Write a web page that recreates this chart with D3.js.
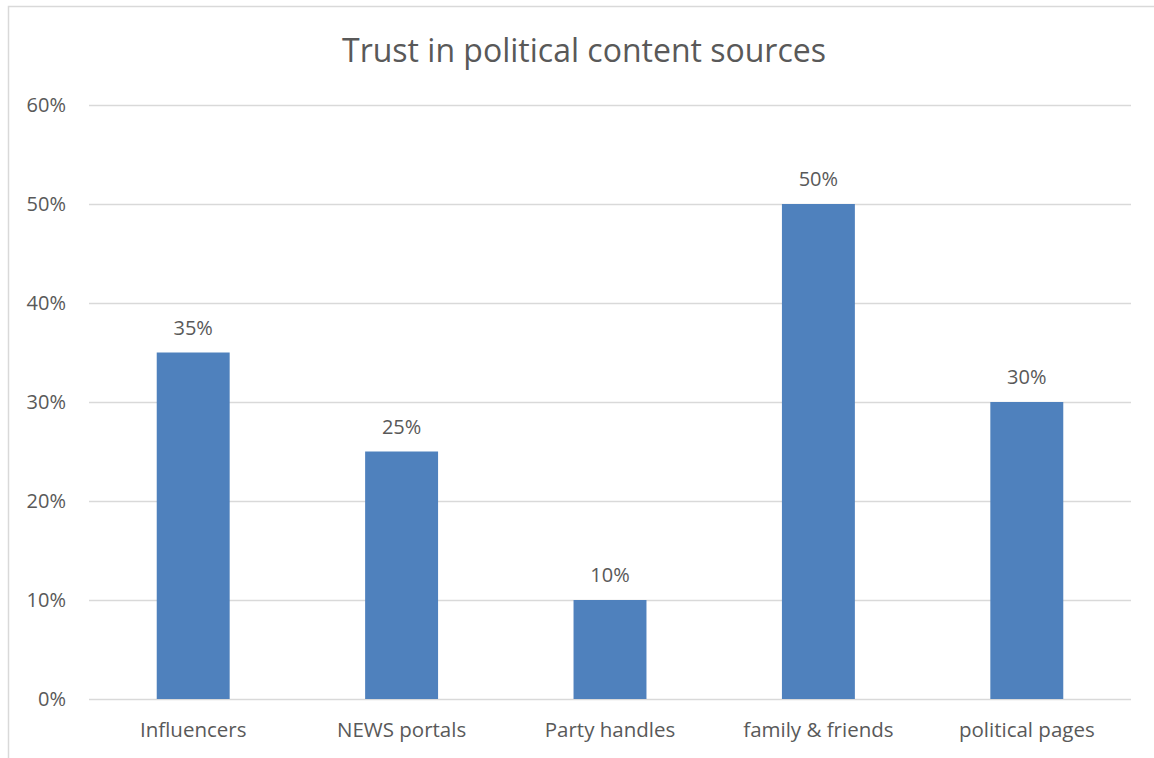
<!DOCTYPE html>
<html>
<head>
<meta charset="utf-8">
<script src="https://cdn.jsdelivr.net/npm/d3@7"></script>
<style>
  html, body { margin: 0; padding: 0; background: #fff; }
  svg { display: block; }
  text { font-family: "Open Sans", "Noto Sans", sans-serif; fill: #595959; }
</style>
</head>
<body>
<svg id="chart" width="1154" height="758"></svg>
<script>
// Share of respondents trusting each source of political content
const categories = ["Influencers", "NEWS portals", "Party handles", "family & friends", "political pages"];
const values = [0.35, 0.25, 0.10, 0.50, 0.30];
const tickValues = [0, 0.1, 0.2, 0.3, 0.4, 0.5, 0.6];
const title = "Trust in political content sources";

const svg = d3.select("#chart");
const W = 1154, H = 758;
const margin = { left: 89, right: 23, top: 105, bottom: 59 };
const fontStack = '"Open Sans", "Noto Sans", sans-serif';

// chart frame (extends past the visible canvas on the right and bottom)
svg.append("rect")
  .attr("x", 8.5).attr("y", 6.5)
  .attr("width", 1200).attr("height", 800)
  .attr("fill", "#fff")
  .attr("stroke", "#d9d9d9").attr("stroke-width", 1.5);

const x = d3.scaleBand()
  .domain(categories)
  .range([margin.left, W - margin.right])
  .paddingInner(0.65)
  .paddingOuter(0.325);

const y = d3.scaleLinear()
  .domain([0, 0.6])
  .range([H - margin.bottom, margin.top]);

// horizontal gridlines
svg.append("g")
  .selectAll("line")
  .data(tickValues)
  .join("line")
  .attr("x1", margin.left).attr("x2", W - margin.right)
  .attr("y1", d => Math.round(y(d)) + 0.5).attr("y2", d => Math.round(y(d)) + 0.5)
  .attr("stroke", "#d9d9d9").attr("stroke-width", 1.3);

// y axis labels
const yAxis = d3.axisLeft(y).tickValues(tickValues).tickFormat(d3.format(".0%")).tickSize(0).tickPadding(23);
svg.append("g")
  .attr("transform", `translate(${margin.left},0)`)
  .call(yAxis)
  .call(g => g.select(".domain").remove())
  .call(g => g.selectAll("text").attr("font-size", 20).attr("fill", "#595959")
    .style("font-family", fontStack));

// bars
svg.append("g")
  .selectAll("rect")
  .data(values)
  .join("rect")
  .attr("x", (d, i) => x(categories[i]))
  .attr("width", x.bandwidth())
  .attr("y", d => y(d))
  .attr("height", d => y(0) - y(d))
  .attr("fill", "#4f81bd");

// value labels
svg.append("g")
  .selectAll("text")
  .data(values)
  .join("text")
  .attr("x", (d, i) => x(categories[i]) + x.bandwidth() / 2)
  .attr("y", d => y(d) - 18)
  .attr("text-anchor", "middle")
  .attr("font-size", 20)
  .attr("fill", "#404040")
  .text(d => d3.format(".0%")(d));

// category axis
const xAxis = d3.axisBottom(x).tickSize(0).tickPadding(23);
svg.append("g")
  .attr("transform", `translate(0,${H - margin.bottom})`)
  .call(xAxis)
  .call(g => g.select(".domain").remove())
  .call(g => g.selectAll("text").attr("font-size", 20.5).attr("fill", "#595959")
    .style("font-family", fontStack));

// title
svg.append("text")
  .attr("x", 584).attr("y", 62)
  .attr("text-anchor", "middle")
  .attr("font-size", 32)
  .attr("fill", "#595959")
  .text(title);
</script>
</body>
</html>
